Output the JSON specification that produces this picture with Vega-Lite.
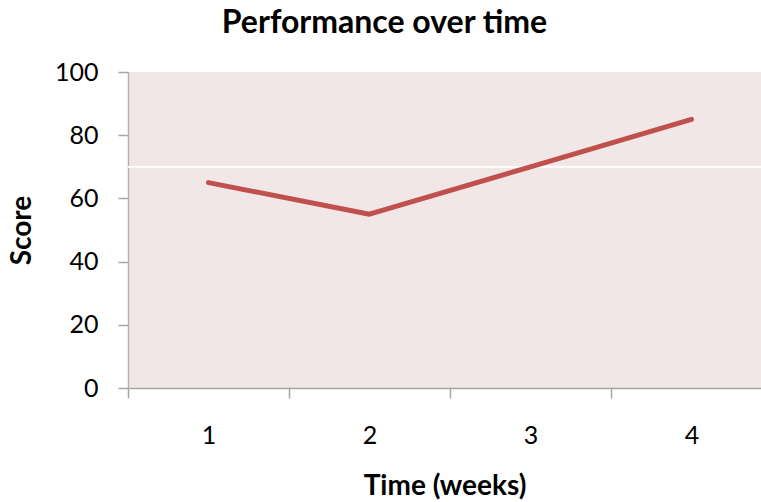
{
  "$schema": "https://vega.github.io/schema/vega-lite/v6.json",
  "autosize": {"type": "none"},
  "padding": {"left": 128, "top": 72, "right": 0, "bottom": 114},
  "width": 633,
  "height": 316,
  "background": "white",
  "config": {
    "font": "Lato",
    "view": {"fill": "#f2e7e7", "stroke": null},
    "axis": {"labelFont": "Lato", "titleFont": "Lato"}
  },
  "title": {
    "text": "Performance over time",
    "font": "Lato",
    "fontSize": 32,
    "fontWeight": "bold",
    "color": "#000000",
    "anchor": "middle",
    "dx": -60,
    "offset": 20
  },
  "data": {
    "values": [
      {"week": 1, "score": 65},
      {"week": 2, "score": 55},
      {"week": 3, "score": 70},
      {"week": 4, "score": 85}
    ]
  },
  "layer": [
    {
      "mark": {"type": "rule", "color": "white", "strokeWidth": 1},
      "encoding": {"y": {"datum": 70, "type": "quantitative", "scale": {"domain": [0, 100]}}}
    },
    {
      "mark": {"type": "line", "color": "#c0504d", "strokeWidth": 5, "strokeCap": "round", "strokeJoin": "round"},
      "encoding": {
        "x": {
          "field": "week",
          "type": "quantitative",
          "scale": {"domain": [0.5, 4.4317], "nice": false, "zero": false},
          "axis": {
            "values": [0.5, 1, 1.5, 2, 2.5, 3, 3.5, 4],
            "labelExpr": "datum.value % 1 === 0 ? ('' + datum.value) : ''",
            "tickOpacity": {"condition": {"test": "datum.value % 1 === 0", "value": 0}, "value": 1},
            "grid": false,
            "domainColor": "#a6a6a6",
            "domainWidth": 1.5,
            "tickColor": "#a6a6a6",
            "tickWidth": 1.5,
            "tickSize": 10,
            "labelFontSize": 25,
            "labelColor": "#000000",
            "labelPadding": 25,
            "labelFlush": false,
            "labelOverlap": false,
            "title": "Time (weeks)",
            "titleFontSize": 28,
            "titleFontWeight": "bold",
            "titleColor": "#000000",
            "titlePadding": 24
          }
        },
        "y": {
          "field": "score",
          "type": "quantitative",
          "scale": {"domain": [0, 100], "nice": false},
          "axis": {
            "values": [0, 20, 40, 60, 80, 100],
            "gridColor": "#a09a9a",
            "gridWidth": 1.5,
            "domainColor": "#b8b0b0",
            "domainWidth": 1.5,
            "tickColor": "#a6a6a6",
            "tickWidth": 1.5,
            "tickSize": 10,
            "labelFontSize": 25,
            "labelColor": "#000000",
            "labelPadding": 20,
            "title": "Score",
            "titleFontSize": 28,
            "titleFontWeight": "bold",
            "titleColor": "#000000",
            "titlePadding": 18
          }
        }
      }
    }
  ]
}
